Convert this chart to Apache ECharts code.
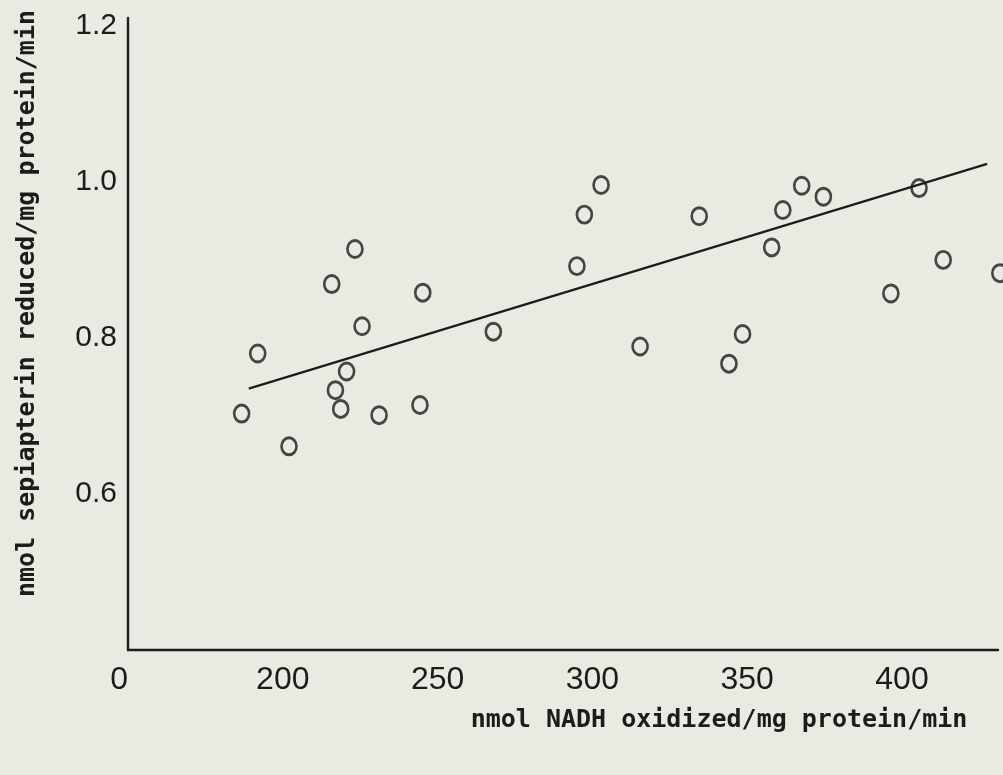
<!DOCTYPE html>
<html>
<head>
<meta charset="utf-8">
<script src="https://cdn.jsdelivr.net/npm/echarts@6/dist/echarts.min.js"></script>
<style>
  html, body { margin: 0; padding: 0; background: #e9eae2; }
  #chart { width: 1003px; height: 775px; }
</style>
</head>
<body>
<div id="chart"></div>
<script>
// NADH oxidized (x) vs sepiapterin reduced (y)
var nadh = [186.7, 191.9, 202.0, 215.8, 217.0, 218.7, 220.6, 223.3, 225.6, 231.1,
  244.3, 245.2, 268.0, 295.0, 297.4, 302.8, 315.4, 334.5, 344.1, 348.5,
  357.9, 361.5, 367.6, 374.6, 396.4, 405.5, 413.3, 431.6];
var sepiapterin = [0.703, 0.780, 0.661, 0.869, 0.733, 0.709, 0.757, 0.914, 0.815, 0.701,
  0.714, 0.858, 0.808, 0.892, 0.958, 0.996, 0.789, 0.956, 0.767, 0.805,
  0.916, 0.964, 0.995, 0.981, 0.857, 0.992, 0.900, 0.883];
// fitted regression line end points
var fitX = [189, 427.5];
var fitY = [0.735, 1.023];
var xTicks = [200, 250, 300, 350, 400];
var yTicks = ["0.6", "0.8", "1.0", "1.2"];

var points = nadh.map(function (x, i) { return [x, sepiapterin[i]]; });
var fitLine = fitX.map(function (x, i) { return [x, fitY[i]]; });

var ink = "#1c1c1c";
var chart = echarts.init(document.getElementById("chart"));
var option = {
  backgroundColor: "#e9eae2",
  animation: false,
  grid: { left: 128, right: 5, top: 18, bottom: 125 },
  xAxis: {
    type: "value",
    min: 150,
    max: 431,
    interval: 50,
    name: "nmol NADH oxidized/mg protein/min",
    nameLocation: "middle",
    nameGap: 58,
    nameTextStyle: {
      fontFamily: "DejaVu Sans Mono",
      fontWeight: "bold",
      fontSize: 25,
      color: ink,
      padding: [0, 0, 0, 312]
    },
    axisLine: { lineStyle: { color: ink, width: 2.4 } },
    axisTick: { show: false },
    splitLine: { show: false },
    axisLabel: {
      margin: 14,
      fontFamily: "Liberation Sans",
      fontSize: 32,
      color: ink,
      alignMinLabel: "right",
      formatter: function (v) {
        if (v === 150) return "0";
        return xTicks.indexOf(v) >= 0 ? String(v) : "";
      }
    }
  },
  yAxis: {
    type: "value",
    min: 0.4,
    max: 1.21,
    interval: 0.2,
    name: "nmol sepiapterin reduced/mg protein/min",
    nameLocation: "middle",
    nameRotate: 90,
    nameGap: 88,
    nameTextStyle: {
      fontFamily: "DejaVu Sans Mono",
      fontWeight: "bold",
      fontSize: 25,
      color: ink,
      padding: [0, 0, 0, 61]
    },
    axisLine: { lineStyle: { color: ink, width: 2.4 } },
    axisTick: { show: false },
    splitLine: { show: false },
    axisLabel: {
      margin: 11,
      fontFamily: "Liberation Sans",
      fontSize: 30,
      color: ink,
      formatter: function (v) {
        var s = v.toFixed(1);
        return (Math.abs(v - parseFloat(s)) < 1e-6 && yTicks.indexOf(s) >= 0) ? s : "";
      }
    }
  },
  series: [
    {
      type: "line",
      data: fitLine,
      symbol: "none",
      lineStyle: { color: ink, width: 2.2 },
      z: 2
    },
    {
      type: "scatter",
      data: points,
      clip: false,
      symbol: "circle",
      symbolSize: [15, 17],
      itemStyle: { color: "rgba(0,0,0,0)", borderColor: ink, borderWidth: 2.8 },
      z: 3
    }
  ]
};
chart.setOption(option);
</script>
</body>
</html>
